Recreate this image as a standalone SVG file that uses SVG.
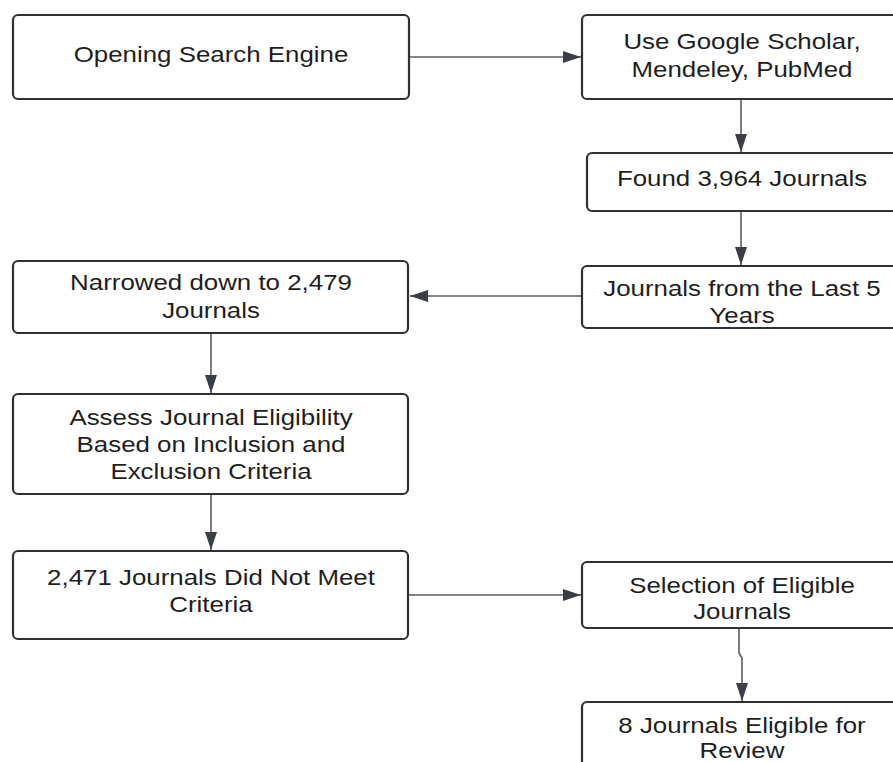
<svg xmlns="http://www.w3.org/2000/svg" width="893" height="762" viewBox="0 0 893 762">
<defs>
<style>
.box{fill:#ffffff;stroke:#2f3033;stroke-width:2.2}
.t{font-family:"Liberation Sans",Arial,sans-serif;font-size:22.5px;fill:#1e1e1e;text-anchor:middle}
.c{fill:none;stroke:#5a5d63;stroke-width:1.6}
</style>
<marker id="ah" markerUnits="userSpaceOnUse" markerWidth="20" markerHeight="14" refX="18" refY="6" orient="auto">
<path d="M0,0 L18,6 L0,12 Z" fill="#3a3e47"/>
</marker>
</defs>
<rect width="893" height="762" fill="#ffffff"/>
<g id="connectors">
<path class="c" d="M409,57 H581" marker-end="url(#ah)"/>
<path class="c" d="M741,99 V152" marker-end="url(#ah)"/>
<path class="c" d="M741,211 V265" marker-end="url(#ah)"/>
<path class="c" d="M582,296 H410" marker-end="url(#ah)"/>
<path class="c" d="M211,333 V393" marker-end="url(#ah)"/>
<path class="c" d="M211,494 V550" marker-end="url(#ah)"/>
<path class="c" d="M409,595 H581" marker-end="url(#ah)"/>
<path class="c" d="M739,628 V653 L742,658 V701" marker-end="url(#ah)"/>
</g>
<g id="n1">
<rect class="box" x="13" y="15" width="396" height="84" rx="5"/>
<text class="t" transform="matrix(1.15 0 0 1 211 0)" x="0" y="62">Opening Search Engine</text>
</g>
<g id="n2">
<rect class="box" x="582" y="15" width="320" height="84" rx="5"/>
<text class="t" transform="matrix(1.15 0 0 1 742 0)" x="0" y="49">Use Google Scholar,</text>
<text class="t" transform="matrix(1.15 0 0 1 742 0)" x="0" y="77">Mendeley, PubMed</text>
</g>
<g id="n3">
<rect class="box" x="587" y="153" width="312" height="58" rx="5"/>
<text class="t" transform="matrix(1.15 0 0 1 742 0)" x="0" y="186">Found 3,964 Journals</text>
</g>
<g id="n4">
<rect class="box" x="582" y="266" width="320" height="62" rx="5"/>
<text class="t" transform="matrix(1.15 0 0 1 742 0)" x="0" y="296">Journals from the Last 5</text>
<text class="t" transform="matrix(1.15 0 0 1 742 0)" x="0" y="323">Years</text>
</g>
<g id="n5">
<rect class="box" x="13" y="261" width="395" height="72" rx="5"/>
<text class="t" transform="matrix(1.15 0 0 1 211 0)" x="0" y="290">Narrowed down to 2,479</text>
<text class="t" transform="matrix(1.15 0 0 1 211 0)" x="0" y="318">Journals</text>
</g>
<g id="n6">
<rect class="box" x="13" y="394" width="395" height="100" rx="5"/>
<text class="t" transform="matrix(1.15 0 0 1 211 0)" x="0" y="425">Assess Journal Eligibility</text>
<text class="t" transform="matrix(1.15 0 0 1 211 0)" x="0" y="452">Based on Inclusion and</text>
<text class="t" transform="matrix(1.15 0 0 1 211 0)" x="0" y="479">Exclusion Criteria</text>
</g>
<g id="n7">
<rect class="box" x="13" y="551" width="395" height="88" rx="5"/>
<text class="t" transform="matrix(1.15 0 0 1 211 0)" x="0" y="585">2,471 Journals Did Not Meet</text>
<text class="t" transform="matrix(1.15 0 0 1 211 0)" x="0" y="612">Criteria</text>
</g>
<g id="n8">
<rect class="box" x="582" y="562" width="320" height="66" rx="5"/>
<text class="t" transform="matrix(1.15 0 0 1 742 0)" x="0" y="593">Selection of Eligible</text>
<text class="t" transform="matrix(1.15 0 0 1 742 0)" x="0" y="619">Journals</text>
</g>
<g id="n9">
<rect class="box" x="582" y="702" width="320" height="80" rx="5"/>
<text class="t" transform="matrix(1.15 0 0 1 742 0)" x="0" y="733">8 Journals Eligible for</text>
<text class="t" transform="matrix(1.15 0 0 1 742 0)" x="0" y="758">Review</text>
</g>
</svg>
